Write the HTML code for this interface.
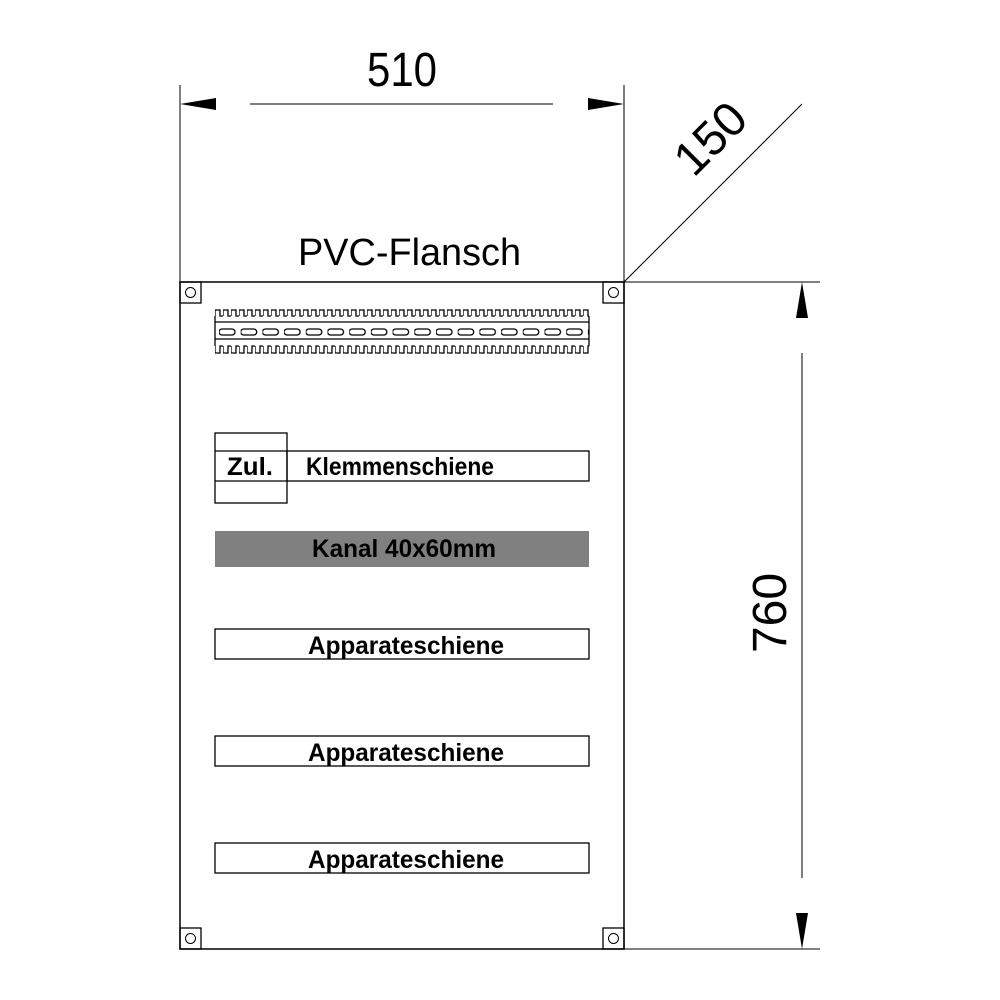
<!DOCTYPE html>
<html><head><style>html,body{margin:0;padding:0;background:#fff}svg{display:block}
text{font-family:"Liberation Sans",sans-serif;fill:#000}</style></head>
<body>
<svg width="1000" height="1000" viewBox="0 0 1000 1000" xmlns="http://www.w3.org/2000/svg">
<defs>
<pattern id="tt" patternUnits="userSpaceOnUse" x="215" y="0" width="8" height="1000">
<path d="M0 316 V310 H5 V316 H8" fill="none" stroke="#000" stroke-width="1.3"/>
</pattern>
<pattern id="bt" patternUnits="userSpaceOnUse" x="215" y="0" width="8" height="1000">
<path d="M0 346 V353 H5 V346 H8" fill="none" stroke="#000" stroke-width="1.3"/>
</pattern>
<pattern id="ov" patternUnits="userSpaceOnUse" x="219" y="0" width="21.7" height="1000">
<rect x="0" y="329" width="16" height="6" rx="3" fill="none" stroke="#000" stroke-width="1.3"/>
</pattern>
<clipPath id="rc"><rect x="215" y="300" width="374" height="60"/></clipPath>
</defs>
<g fill="none" stroke="#000">
<rect x="180" y="282" width="444" height="667" stroke-width="1.5"/>
<rect x="180" y="282" width="21" height="21" stroke-width="1.3"/><circle cx="190.5" cy="292.5" r="5"/>
<rect x="603" y="282" width="21" height="21" stroke-width="1.3"/><circle cx="613.5" cy="292.5" r="5"/>
<rect x="180" y="928" width="21" height="21" stroke-width="1.3"/><circle cx="190.5" cy="938.5" r="5"/>
<rect x="603" y="928" width="21" height="21" stroke-width="1.3"/><circle cx="613.5" cy="938.5" r="5"/>
<g clip-path="url(#rc)">
<rect x="215" y="300" width="374" height="60" fill="url(#tt)" stroke="none"/>
<rect x="215" y="300" width="374" height="60" fill="url(#bt)" stroke="none"/>
<rect x="215" y="300" width="374" height="60" fill="url(#ov)" stroke="none"/>
</g>
<path d="M215 316 V346 M589 316 V346 M215 322 H589 M215 339 H589" stroke-width="1.3"/>
<rect x="215" y="433" width="72" height="70" stroke-width="1.3"/>
<line x1="215" y1="451" x2="287" y2="451" stroke-width="1.3"/>
<line x1="215" y1="481" x2="287" y2="481" stroke-width="1.3"/>
<rect x="287" y="451" width="302" height="30" stroke-width="1.3"/>
<rect x="215" y="629" width="374" height="30" stroke-width="1.3"/>
<rect x="215" y="736" width="374" height="30" stroke-width="1.3"/>
<rect x="215" y="843" width="374" height="30" stroke-width="1.3"/>
<line x1="180" y1="85" x2="180" y2="282" stroke-width="1"/>
<line x1="624" y1="85" x2="624" y2="282" stroke-width="1"/>
<line x1="250" y1="104" x2="553" y2="104" stroke-width="1"/>
<line x1="624" y1="282" x2="802" y2="104" stroke-width="1"/>
<line x1="624" y1="282" x2="820" y2="282" stroke-width="1"/>
<line x1="624" y1="949" x2="820" y2="949" stroke-width="1"/>
<line x1="802" y1="353" x2="802" y2="878" stroke-width="1"/>
</g>
<rect x="215" y="531" width="374" height="36" fill="#808080"/>
<g fill="#000">
<polygon points="180,104 216,98 216,110"/>
<polygon points="624,104 588,98 588,110"/>
<polygon points="802,282 796,318 808,318"/>
<polygon points="802,949 796,913 808,913"/>
</g>
<text x="367" y="86" font-size="48" textLength="70" lengthAdjust="spacingAndGlyphs">510</text>
<text x="298" y="265" font-size="38" textLength="223" lengthAdjust="spacingAndGlyphs">PVC-Flansch</text>
<text x="0" y="0" font-size="48" text-anchor="middle" transform="translate(722,150) rotate(-45)">150</text>
<text x="0" y="0" font-size="48" text-anchor="middle" transform="translate(786,613) rotate(-90)">760</text>
<text x="227" y="475" font-size="25" font-weight="bold" textLength="46" lengthAdjust="spacingAndGlyphs">Zul.</text>
<text x="306" y="475" font-size="25" font-weight="bold" textLength="188" lengthAdjust="spacingAndGlyphs">Klemmenschiene</text>
<text x="312" y="557" font-size="25" textLength="184" lengthAdjust="spacingAndGlyphs" style="font-weight:600">Kanal  40x60mm</text>
<text x="308" y="654" font-size="25" font-weight="bold" textLength="196" lengthAdjust="spacingAndGlyphs">Apparateschiene</text>
<text x="308" y="761" font-size="25" font-weight="bold" textLength="196" lengthAdjust="spacingAndGlyphs">Apparateschiene</text>
<text x="308" y="868" font-size="25" font-weight="bold" textLength="196" lengthAdjust="spacingAndGlyphs">Apparateschiene</text>
</svg>
</body></html>
